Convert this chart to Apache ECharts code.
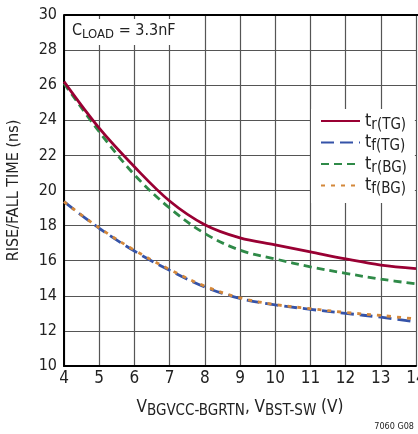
<!DOCTYPE html>
<html><head><meta charset="utf-8">
<script src="https://cdn.jsdelivr.net/npm/echarts@6/dist/echarts.min.js"></script>
<style>html,body{margin:0;padding:0;background:#fff}#c{width:418px;height:434px}</style>
</head><body><div id="c"></div>
<script>
const xValues = [4,5,6,7,8,9,10,11,12,13,14];
const trTG = [26.2,23.55,21.35,19.4,18.05,17.3,16.9,16.5,16.1,15.75,15.55];
const tfTG = [19.36,17.85,16.55,15.45,14.5,13.85,13.48,13.23,13.0,12.78,12.52];
const trBG = [26.1,23.35,20.9,19.0,17.55,16.6,16.1,15.65,15.28,14.95,14.68];
const tfBG = [19.36,17.87,16.6,15.5,14.55,13.88,13.5,13.27,13.05,12.88,12.68];
const yTicks = [10,12,14,16,18,20,22,24,26,28,30];
const xTicks = [4,5,6,7,8,9,10,11,12,13,14];

const FONT = "'Liberation Sans Narrow','DejaVu Sans Condensed',sans-serif";
const pair = arr => xValues.map((x,i)=>[x,arr[i]]);
const subRich = (base, sub) => ({
  a:{fontSize:base, fontFamily:FONT, color:'#222', fontWeight:'normal'},
  b:{fontSize:sub, fontFamily:FONT, color:'#222', fontWeight:'normal', padding:[Math.round(base*0.45),0,0,0]}
});

const chart = echarts.init(document.getElementById('c'));
const mk = (name, data, color, type, z) => ({
  name, type:'line', data:pair(data), smooth:0.35, symbol:'none', showSymbol:false,
  lineStyle:{color, width:2.8, type}, itemStyle:{color}, z
});
chart.setOption({
  animation:false,
  grid:{left:64, top:15, right:2, bottom:68, outerBoundsMode:'none', containLabel:false},
  title:{
    text:'{a|C}{b|LOAD}{a| = 3.3nF}', left:66, top:17,
    backgroundColor:'#fff', padding:[4,10,4,6],
    textStyle:{fontWeight:'normal', rich:subRich(16,13)}
  },
  legend:{
    orient:'vertical', left:311, top:109, backgroundColor:'#fff',
    padding:[3,8,6,9], itemWidth:39, itemHeight:10, itemGap:1,
    itemStyle:{opacity:0},
    data:['tr(TG)','tf(TG)','tr(BG)','tf(BG)'],
    formatter: n => '{a|t}{b|'+n.slice(1)+'}',
    textStyle:{rich:subRich(18,15)}
  },
  xAxis:{
    type:'value', min:4, max:14, interval:1,
    name:'{a|V}{b|BGVCC-BGRTN}{a|, V}{b|BST-SW}{a| (V)}',
    nameLocation:'middle', nameGap:30,
    nameTextStyle:{rich:subRich(17,15)},
    axisLine:{lineStyle:{color:'#000', width:2}},
    axisTick:{show:false},
    axisLabel:{fontSize:17, fontFamily:FONT, color:'#222', margin:4, showMaxLabel:true, hideOverlap:false},
    splitLine:{lineStyle:{color:'#555', width:1.2}}
  },
  yAxis:{
    type:'value', min:10, max:30, interval:2,
    name:'RISE/FALL TIME (ns)', nameLocation:'middle', nameGap:42,
    nameTextStyle:{fontSize:16, fontFamily:FONT, color:'#222'},
    axisLine:{show:true, lineStyle:{color:'#000', width:2}},
    axisTick:{show:false},
    axisLabel:{fontSize:16, fontFamily:FONT, color:'#222', margin:7},
    splitLine:{lineStyle:{color:'#555', width:1.2}}
  },
  graphic:[
    {type:'line', shape:{x1:64,y1:15,x2:418,y2:15}, style:{stroke:'#000', lineWidth:2}, z:10},
    {type:'text', right:4, bottom:3, style:{text:'7060 G08', fontSize:9, fontFamily:FONT, fill:'#222'}}
  ],
  series:[
    mk('tr(TG)', trTG, '#990033', 'solid', 5),
    mk('tf(TG)', tfTG, '#3553a8', [13,6], 4),
    mk('tr(BG)', trBG, '#2f8a48', [8,5], 3),
    mk('tf(BG)', tfBG, '#d4883a', [4,6], 6)
  ]
});
</script></body></html>
